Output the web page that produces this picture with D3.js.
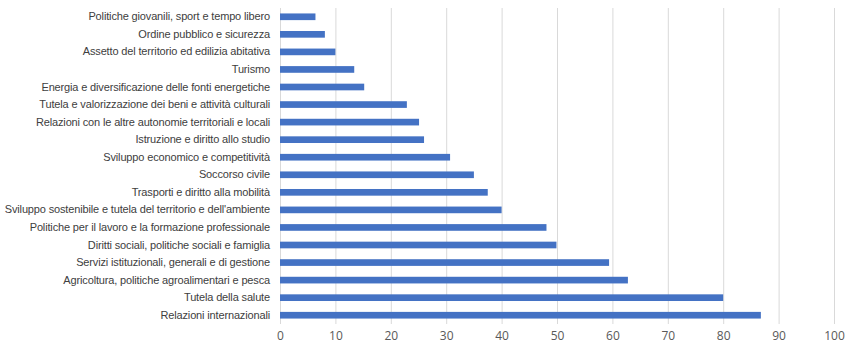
<!DOCTYPE html>
<html>
<head>
<meta charset="utf-8">
<script src="https://cdn.jsdelivr.net/npm/d3@7"></script>
<style>
  body { margin: 0; background: #fff; }
  svg { display: block; }
</style>
</head>
<body>
<svg id="chart"></svg>
<script>
const categories = [
  "Politiche giovanili, sport e tempo libero",
  "Ordine pubblico e sicurezza",
  "Assetto del territorio ed edilizia abitativa",
  "Turismo",
  "Energia e diversificazione delle fonti energetiche",
  "Tutela e valorizzazione dei beni e attività culturali",
  "Relazioni con le altre autonomie territoriali e locali",
  "Istruzione e diritto allo studio",
  "Sviluppo economico e competitività",
  "Soccorso civile",
  "Trasporti e diritto alla mobilità",
  "Sviluppo sostenibile e tutela del territorio e dell'ambiente",
  "Politiche per il lavoro e la formazione professionale",
  "Diritti sociali, politiche sociali e famiglia",
  "Servizi istituzionali, generali e di gestione",
  "Agricoltura, politiche agroalimentari e pesca",
  "Tutela della salute",
  "Relazioni internazionali"
]
const values = [6.4, 8.1, 10, 13.4, 15.2, 22.9, 25.1, 26, 30.7, 35, 37.5, 40, 48.1, 49.9, 59.4, 62.8, 80, 86.8]
const ticks = [0, 10, 20, 30, 40, 50, 60, 70, 80, 90, 100]

const width = 849
const height = 351
const margin = {top: 8, right: 15, bottom: 27, left: 280}

const data = categories.map((c, i) => ({cat: c, val: values[i]}))

let x = d3.scaleLinear()
  .domain([0, 100])
  .range([margin.left, width - margin.right])

let y = d3.scaleBand()
  .domain(categories)
  .range([margin.top, height - margin.bottom])
  .paddingInner(0.62)
  .paddingOuter(0.31)

const svg = d3.select("#chart")
  .attr("width", width)
  .attr("height", height)

// griglia verticale
svg.append("g")
  .selectAll("line")
  .data(ticks)
  .join("line")
  .attr("x1", d => x(d) + 0.5)
  .attr("x2", d => x(d) + 0.5)
  .attr("y1", margin.top)
  .attr("y2", height - margin.bottom)
  .attr("stroke", "#d9d9d9")
  .attr("stroke-width", 1)

// barre
svg.append("g")
  .selectAll("rect")
  .data(data)
  .join("rect")
  .attr("x", x(0))
  .attr("y", d => y(d.cat))
  .attr("width", d => x(d.val) - x(0))
  .attr("height", y.bandwidth())
  .attr("fill", "#4472c4")

// asse x
svg.append("g")
  .attr("transform", `translate(0,${height - margin.bottom})`)
  .call(d3.axisBottom(x).tickValues(ticks).tickSize(0).tickPadding(7))
  .call(g => g.select(".domain").remove())
  .call(g => g.selectAll("text")
    .attr("fill", "#595959")
    .attr("font-family", "'Open Sans', sans-serif")
    .attr("font-size", 12))

// asse y
svg.append("g")
  .attr("transform", `translate(${margin.left},0)`)
  .call(d3.axisLeft(y).tickSize(0).tickPadding(10))
  .call(g => g.select(".domain").remove())
  .call(g => g.selectAll("text")
    .attr("fill", "#404040")
    .attr("font-family", "'Liberation Sans', Arial, sans-serif")
    .attr("font-size", 11)
    .attr("letter-spacing", "-0.15"))
</script>
</body>
</html>
